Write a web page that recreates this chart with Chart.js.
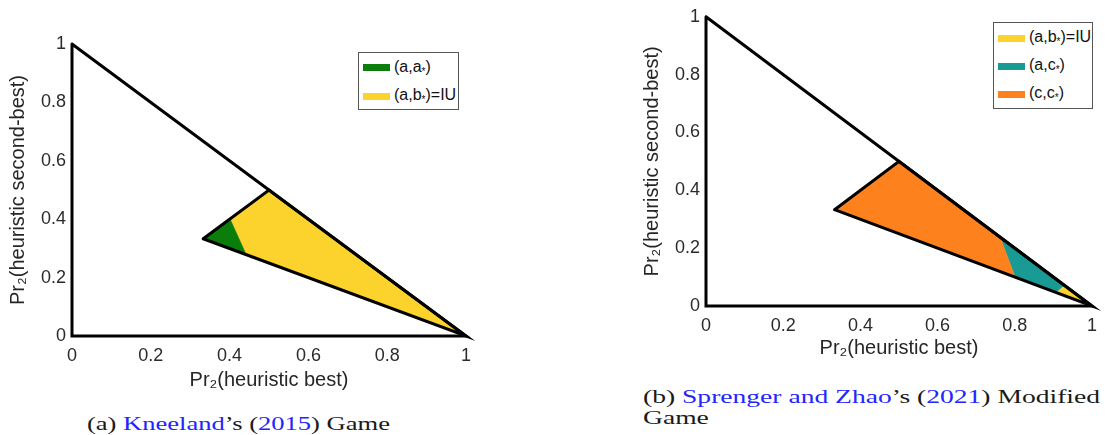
<!DOCTYPE html>
<html>
<head>
<meta charset="utf-8">
<script src="https://cdn.jsdelivr.net/npm/chart.js@4.4.0/dist/chart.umd.min.js"></script>
<style>
  html, body { margin:0; padding:0; background:#fff; }
  body { width:1106px; height:435px; position:relative; overflow:hidden; font-family:"Liberation Sans", Arial, sans-serif; }
  canvas { position:absolute; top:0; }
  #c1 { left:0; }
  #c2 { left:600px; }
  .legend { position:absolute; border:1px solid #555; background:#fff; box-sizing:border-box; }
  .sw { position:absolute; left:4px; width:27px; height:7px; }
  .lt { position:absolute; left:35px; font-size:16px; line-height:16px; color:#111; white-space:nowrap; }
  .lt sub { font-size:10px; vertical-align:-3px; line-height:0; }
  .cap { position:absolute; font-family:"Liberation Serif", "Times New Roman", serif; font-size:19px; line-height:19px; color:#1a1a1a; white-space:nowrap; transform-origin:0 0; display:inline-block; }
  .lnk { color:#2424ff; }
</style>
</head>
<body>
<canvas id="c1" width="490" height="400"></canvas>
<canvas id="c2" width="506" height="370"></canvas>

<div class="cap" id="capA" style="left:87px; top:414px;">(a) <span class="lnk">Kneeland</span>’s (<span class="lnk">2015</span>) Game</div>
<div class="cap" id="capB1" style="left:643px; top:387px;">(b) <span class="lnk">Sprenger and Zhao</span>’s (<span class="lnk">2021</span>) Modified</div>
<div class="cap" id="capB2" style="left:643px; top:408px;">Game</div>

<script>
// ---- data ----
const tickLabels = ['0', '0.2', '0.4', '0.6', '0.8', '1'];

// outer simplex boundary
const outerX = [0, 0, 1, 0];
const outerY = [1, 0, 0, 1];
// inner region boundary
const innerX = [0.333, 0.5, 1, 0.333];
const innerY = [0.333, 0.5, 0, 0.333];

// (a) Kneeland's game regions
const aaX  = [0.333, 0.402, 0.442, 0.333];
const aaY  = [0.333, 0.398, 0.279, 0.333];
const abX  = [0.402, 0.5, 1, 0.442, 0.402];
const abY  = [0.398, 0.5, 0, 0.279, 0.398];

// (b) Sprenger and Zhao modified game regions
const ccX  = [0.333, 0.5, 0.762, 0.801, 0.333];
const ccY  = [0.333, 0.5, 0.238, 0.0995, 0.333];
const acX  = [0.762, 0.928, 0.906, 0.801, 0.762];
const acY  = [0.238, 0.072, 0.047, 0.0995, 0.238];
const ab2X = [0.928, 1, 0.906, 0.928];
const ab2Y = [0.072, 0, 0.047, 0.072];

const legendA = ['(a,a*)', '(a,b*)=IU'];
const legendB = ['(a,b*)=IU', '(a,c*)', '(c,c*)'];

const GREEN = '#0a7d0a', YELLOW = '#fcd22c', TEAL = '#1a9a95', ORANGE = '#fd811d';

// ---- helpers ----
const pts = (xs, ys) => xs.map((x, i) => ({x: x, y: ys[i]}));

function outline(xs, ys) {
  return { data: pts(xs, ys), showLine: true, fill: false, borderColor: '#000', borderWidth: 3,
           pointRadius: 0, tension: 0, clip: false, borderJoinStyle: 'miter', borderCapStyle: 'round' };
}
function region(xs, ys, color) {
  return { data: pts(xs, ys), showLine: true, fill: 'shape', backgroundColor: color, borderColor: color,
           borderWidth: 0.6, pointRadius: 0, tension: 0, clip: false };
}

function makeChart(id, datasets, g) {
  const axisFont = { family: '"Liberation Sans", Arial, sans-serif', size: 18 };
  const titleFont = { family: '"Liberation Sans", Arial, sans-serif', size: 20 };
  return new Chart(document.getElementById(id), {
    type: 'scatter',
    data: { datasets: datasets },
    options: {
      responsive: false, animation: false, events: [],
      layout: { padding: { left: 0, right: g.padRight, top: g.padTop, bottom: 0 } },
      plugins: { legend: { display: false }, tooltip: { enabled: false } },
      scales: {
        x: {
          type: 'linear', min: 0, max: 1,
          grid: { display: false, drawTicks: false }, border: { display: false },
          ticks: { stepSize: 0.2, padding: 9, color: '#2b2b2b', font: axisFont, maxRotation: 0, autoSkip: false,
                   callback: (v, i) => tickLabels[i] },
          title: { display: true, text: 'Pr₂(heuristic best)', color: '#262626', font: titleFont,
                   padding: { top: 0, bottom: g.xTitlePad } },
          afterFit: s => { s.height = g.xAxisH; }
        },
        y: {
          type: 'linear', min: 0, max: 1,
          grid: { display: false, drawTicks: false }, border: { display: false },
          ticks: { stepSize: 0.2, padding: 6, color: '#2b2b2b', font: axisFont, autoSkip: false,
                   callback: (v, i) => tickLabels[i] },
          title: { display: true, text: 'Pr₂(heuristic second-best)', color: '#262626', font: titleFont,
                   padding: { top: g.yTitlePad, bottom: 0 } },
          afterFit: s => { s.width = g.yAxisW; }
        }
      }
    }
  });
}

makeChart('c1', [
  outline(outerX, outerY),
  outline(innerX, innerY),
  region(aaX, aaY, GREEN),
  region(abX, abY, YELLOW)
], { padRight: 24, padTop: 44, xAxisH: 64, yAxisW: 72, xTitlePad: 8, yTitlePad: 6.5 });

makeChart('c2', [
  outline(outerX, outerY),
  outline(innerX, innerY),
  region(ccX, ccY, ORANGE),
  region(acX, acY, TEAL),
  region(ab2X, ab2Y, YELLOW)
], { padRight: 6, padTop: 15, xAxisH: 64, yAxisW: 106, xTitlePad: 10, yTitlePad: 40.5 });

// ---- legends (HTML overlay) ----
function makeLegend(labels, colors, box, rowCenters) {
  const d = document.createElement('div');
  d.className = 'legend';
  Object.assign(d.style, { left: box.left + 'px', top: box.top + 'px', width: box.w + 'px', height: box.h + 'px' });
  labels.forEach((lab, i) => {
    const sw = document.createElement('div');
    sw.className = 'sw';
    sw.style.background = colors[i];
    sw.style.top = (rowCenters[i] - 3.5) + 'px';
    d.appendChild(sw);
    const t = document.createElement('div');
    t.className = 'lt';
    t.innerHTML = lab.replace('*', '<sub>*</sub>');
    t.style.top = (rowCenters[i] - 9) + 'px';
    d.appendChild(t);
  });
  document.body.appendChild(d);
}
makeLegend(legendA, [GREEN, YELLOW], { left: 358, top: 52, w: 101, h: 58 }, [14.5, 43]);
makeLegend(legendB, [YELLOW, TEAL, ORANGE], { left: 993, top: 22, w: 100, h: 87 }, [15, 43, 71]);

// ---- caption widths ----
function fitW(id, target) {
  const el = document.getElementById(id);
  const w = el.getBoundingClientRect().width;
  const k = target / w;
  el.style.transform = 'scaleX(' + k + ')';
  return k;
}
fitW('capA', 303);
const kb = fitW('capB1', 457);
document.getElementById('capB2').style.transform = 'scaleX(' + kb + ')';
</script>
</body>
</html>
